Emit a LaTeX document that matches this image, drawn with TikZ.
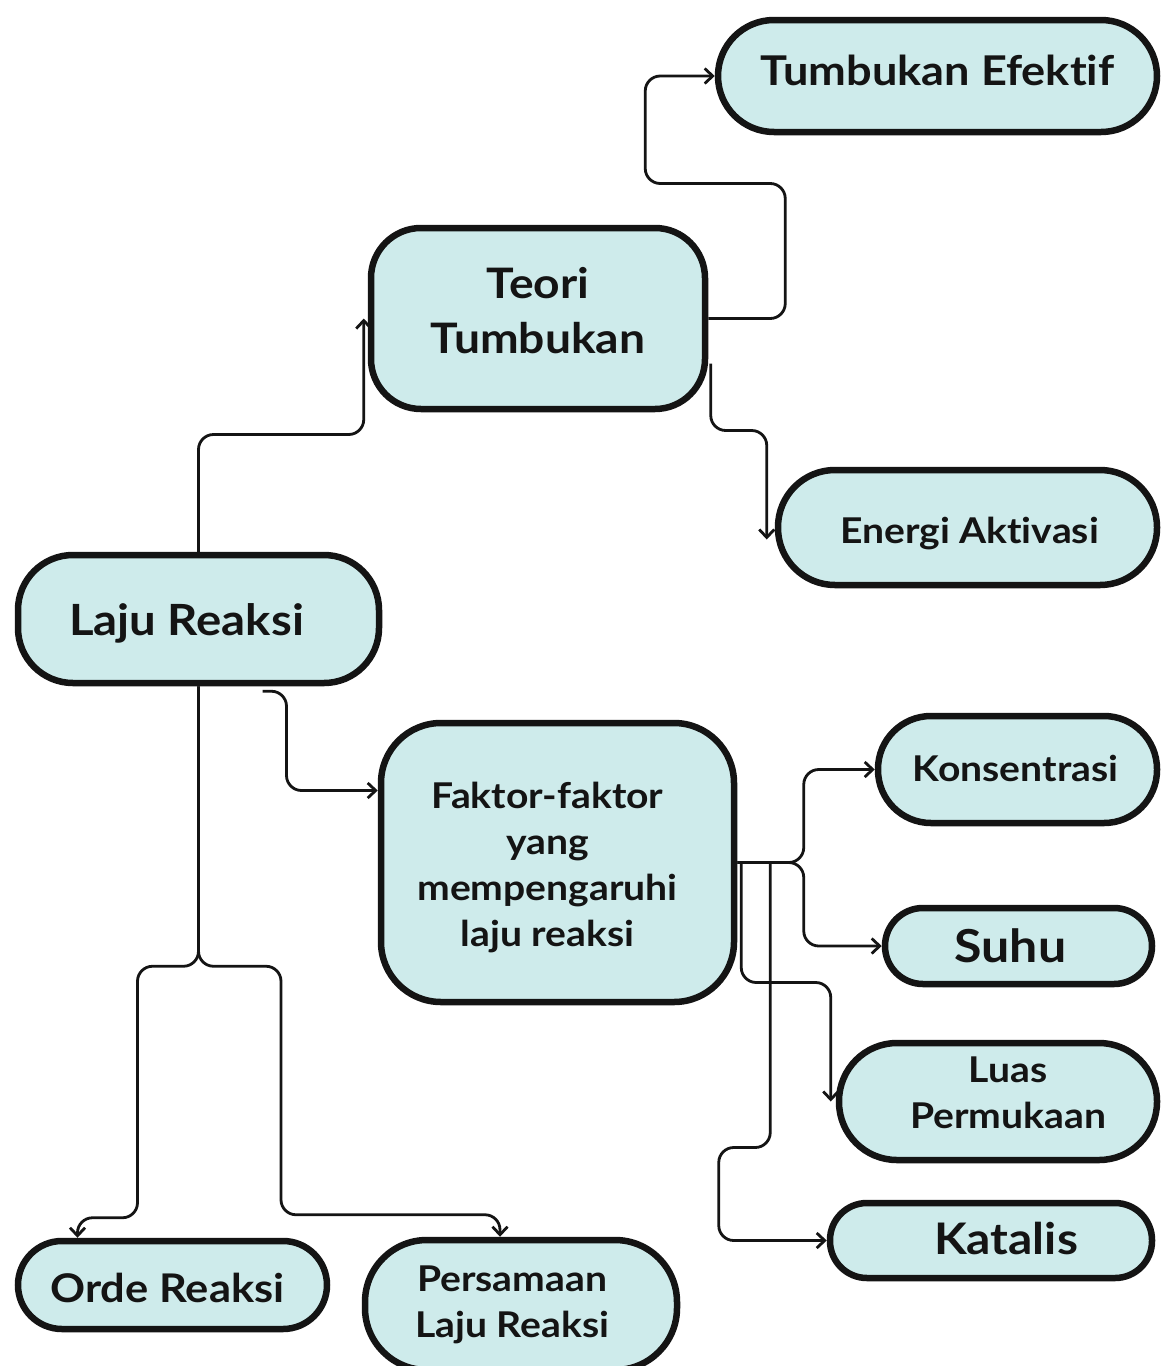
\documentclass[tikz,border=0pt]{standalone}
\usepackage{fontspec}
\setmainfont{Lato}[FakeStretch=1.1, Ligatures={NoCommon,NoContextual}]
\usetikzlibrary{arrows.meta,calc}
\definecolor{boxfill}{RGB}{206,235,235}
\definecolor{ink}{RGB}{20,20,20}
\tikzset{
  box/.style={draw=ink, fill=boxfill, line width=6.5pt, inner sep=0pt},
  txt/.style={align=center, text=ink, inner sep=0pt},
  fs/.style={font=\bfseries\fontsize{#1}{50}\selectfont},
  fsm/.style={font=\bfseries\fontsize{#1}{46}\selectfont},
  conn/.style={draw=ink, line width=2.8pt, rounded corners=15pt, -{Straight Barb[length=8pt,width=15pt]}}
}
\begin{document}
\begin{tikzpicture}[x=1pt,y=-1pt]
\useasboundingbox (0,0) rectangle (1161,1366);
\clip (0,0) rectangle (1161,1366);
\fill[white] (0,0) rectangle (1161,1366);
% boxes
\node[box,minimum width=439pt,minimum height=112pt,rounded corners=56pt] (eff) at (937.5,76) {};
\node[box,minimum width=334pt,minimum height=181pt,rounded corners=50pt] (teori) at (538,318.5) {};
\node[box,minimum width=379pt,minimum height=115pt,rounded corners=57pt] (energi) at (967.5,527.5) {};
\node[box,minimum width=361pt,minimum height=128pt,rounded corners=55pt] (laju) at (198.5,619) {};
\node[box,minimum width=353pt,minimum height=279pt,rounded corners=60pt] (faktor) at (557.5,862.5) {};
\node[box,minimum width=279pt,minimum height=107pt,rounded corners=53pt] (kons) at (1017.5,769.5) {};
\node[box,minimum width=267pt,minimum height=76pt,rounded corners=38pt] (suhu) at (1018.5,946) {};
\node[box,minimum width=318pt,minimum height=117pt,rounded corners=58pt] (luas) at (998,1101.5) {};
\node[box,minimum width=322pt,minimum height=75pt,rounded corners=37pt] (katalis) at (991,1240.5) {};
\node[box,minimum width=309pt,minimum height=88pt,rounded corners=44pt] (orde) at (172.5,1285) {};
\node[box,minimum width=312pt,minimum height=130pt,rounded corners=62pt] (pers) at (521,1305) {};
% texts
\node[txt,fs=41] (effT) at ($(eff)+(0,-6)$) {Tumbukan Efektif};
\node[txt,font=\bfseries\fontsize{42}{55}\selectfont] (teoriT) at ($(teori)+(0,-8)$) {Teori\\Tumbukan};
\node[txt,fs=35.5] (energiT) at ($(energi)+(2,6)$) {Energi Aktivasi};
\node[txt,fs=43] (lajuT) at ($(laju)+(-12,4)$) {Laju Reaksi};
\node[txt,fsm=35.5] (faktorT) at ($(faktor)+(-10,5)$) {Faktor-faktor\\yang\\mempengaruhi\\laju reaksi};
\node[txt,fs=35.5] (konsT) at ($(kons)+(-2,-1)$) {Konsentrasi};
\node[txt,fs=45.5] (suhuT) at ($(suhu)+(-8,0)$) {Suhu};
\node[txt,fsm=35.5] (luasT) at ($(luas)+(10,-9)$) {Luas\\Permukaan};
\node[txt,fs=43.5] (katalisT) at ($(katalis)+(15,-2)$) {Katalis};
\node[txt,fs=39.5] (ordeT) at ($(orde)+(-5,3)$) {Orde Reaksi};
\node[txt,fsm=35.5] (persT) at ($(pers)+(-9,0)$) {Persamaan\\Laju Reaksi};
% connectors
\draw[conn] (laju.north) |- ($(teori.west)+(-4,116)$) -- ($(teori.west)+(-4,0)$);
\draw[conn] (teori.east) -- ++(77,0) -- ++(0,-135) -- ++(-140,0) |- (eff.west);
\draw[conn] ($(teori.east)+(2.5,45)$) |- ($(energi.west)+(-8,-97)$) -- ($(energi.west)+(-8,12)$);
\draw[conn] ($(laju.south)+(64,5)$) -- ++(24,0) |- ($(faktor.west)+(0,-72)$);
\coordinate (split) at ($(laju.south)+(0,280)$);
\draw[conn] (laju.south) -- (split) -| ($(orde.north)+(-35,-20)$) -| ($(orde.north)+(-95,0)$);
\draw[conn] (laju.south) -- (split) -| ($(pers.north)+(-240,-22)$) -| ($(pers.north)+(-21,0)$);
\draw[conn] (faktor.east) -| ($(kons.west)+(-71,0)$) -- (kons.west);
\draw[conn] (faktor.east) -| ($(suhu.west)+(-78,0)$) -- (suhu.west);
\draw[conn] ($(faktor.east)+(4,0)$) -- ($(faktor.east)+(4,120)$) -| ($(luas.west)+(-5,0)$);
\draw[conn] ($(faktor.east)+(33,0)$) -- ($(faktor.east)+(33,285)$) -| ($(katalis.west)+(-108,0)$) -- (katalis.west);
\end{tikzpicture}
\end{document}
